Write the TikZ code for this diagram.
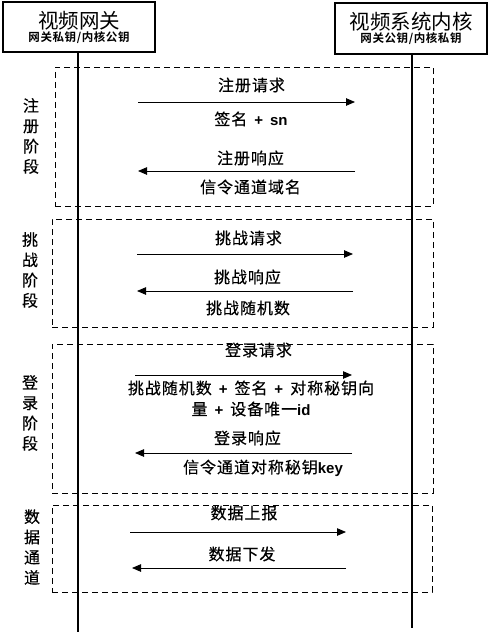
\documentclass[tikz,border=0pt]{standalone}
\usepackage{fontspec}
\setmainfont{Liberation Sans}
\newfontfamily\cjk[FakeBold=0.4]{Noto Sans CJK SC}
\newfontfamily\cjkl[LetterSpace=6,FakeBold=0.4]{Noto Sans CJK SC}
\newfontfamily\cjkh{Noto Sans CJK SC}
\newfontfamily\cjkb[LetterSpace=5]{Noto Sans CJK SC Bold}
\usetikzlibrary{arrows.meta}
\newcommand{\lat}[1]{{\fontspec{Liberation Sans}\bfseries\fontsize{15}{17}\selectfont #1}}
\newcommand{\pl}{\hspace{7pt}\lat{+}\hspace{7pt}}
\begin{document}
\begin{tikzpicture}[x=1pt,y=-1pt,
  hdr/.style={draw,line width=1.6pt,minimum width=152pt,minimum height=50pt,inner sep=0pt,align=center},
  life/.style={line width=1.6pt},
  phase/.style={draw,dashed,dash pattern=on 6pt off 4pt,line width=0.8pt,minimum width=#1,inner sep=0pt},
  msg/.style={line width=0.8pt,-{Triangle[length=9pt,width=7.5pt]}},
  lbl/.style={font=\cjkl\fontsize{16}{18}\selectfont,inner sep=0pt,align=center},
  side/.style={font=\cjk\fontsize{16}{20.3}\selectfont,inner sep=0pt,align=center}
]
\useasboundingbox (0,0) rectangle (490,634);
% headers
\node[hdr] (gw) at (79,27) {{\cjkh\fontsize{20.5}{22}\selectfont 视频网关}\\[1pt]{\cjkb\fontsize{11.5}{13}\selectfont 网关私钥/内核公钥}};
\node[hdr,minimum height=51pt] (core) at (411,28.5) {{\cjkh\fontsize{20.5}{22}\selectfont 视频系统内核}\\[1pt]{\cjkb\fontsize{11.5}{13}\selectfont 网关公钥/内核私钥}};
\coordinate (gwEnd) at (78,632);
\coordinate (coreEnd) at (412,628);
\draw[life] (gw.south -| gwEnd) -- (gwEnd);
\draw[life] (core.south -| coreEnd) -- (coreEnd);
% phases
\node[phase=378pt,minimum height=139pt] (p1) at (244,136.5) {};
\node[phase=381pt,minimum height=108pt] (p2) at (242.5,273) {};
\node[phase=381pt,minimum height=149pt] (p3) at (242.5,418.5) {};
\node[phase=380pt,minimum height=87pt] (p4) at (242,548.5) {};
% side labels
\node[side] (s1) at (31,136) {注\\册\\阶\\段};
\node[side] (s2) at (30,270) {挑\\战\\阶\\段};
\node[side] (s3) at (30,413) {登\\录\\阶\\段};
\node[side] (s4) at (32,547) {数\\据\\通\\道};
% phase 1
\coordinate (a1s) at (138,102); \coordinate (a1e) at (355,102);
\coordinate (a2s) at (355,171); \coordinate (a2e) at (138,171);
\draw[msg] (a1s) -- (a1e);
\draw[msg] (a2s) -- (a2e);
\node[lbl] (t1) at (251.5,85) {注册请求};
\node[lbl] (t2) at (251,119) {签名\pl\lat{sn}};
\node[lbl] (t3) at (250.5,158) {注册响应};
\node[lbl] (t4) at (250.5,187) {信令通道域名};
% phase 2
\coordinate (b1s) at (137,254); \coordinate (b1e) at (353,254);
\coordinate (b2s) at (353,291); \coordinate (b2e) at (137,291);
\draw[msg] (b1s) -- (b1e);
\draw[msg] (b2s) -- (b2e);
\node[lbl] (u1) at (248.5,238) {挑战请求};
\node[lbl] (u2) at (247.5,277) {挑战响应};
\node[lbl] (u3) at (248,308) {挑战随机数};
% phase 3
\coordinate (c1s) at (135,375); \coordinate (c1e) at (352,375);
\coordinate (c2s) at (352,453); \coordinate (c2e) at (135,453);
\draw[msg] (c1s) -- (c1e);
\draw[msg] (c2s) -- (c2e);
\node[lbl] (v1) at (258.5,350) {登录请求};
\node[lbl,font=\cjkl\fontsize{16}{21}\selectfont] (v2) at (251,398.5) {挑战随机数\pl 签名\pl 对称秘钥向\\量\pl 设备唯一\lat{id}};
\node[lbl] (v3) at (247.5,438) {登录响应};
\node[lbl] (v4) at (263,468) {信令通道对称秘钥\lat{key}};
% phase 4
\coordinate (d1s) at (130,532); \coordinate (d1e) at (346,532);
\coordinate (d2s) at (346,568); \coordinate (d2e) at (132,568);
\draw[msg] (d1s) -- (d1e);
\draw[msg] (d2s) -- (d2e);
\node[lbl] (w1) at (244,513) {数据上报};
\node[lbl] (w2) at (242,554) {数据下发};
\end{tikzpicture}
\end{document}
